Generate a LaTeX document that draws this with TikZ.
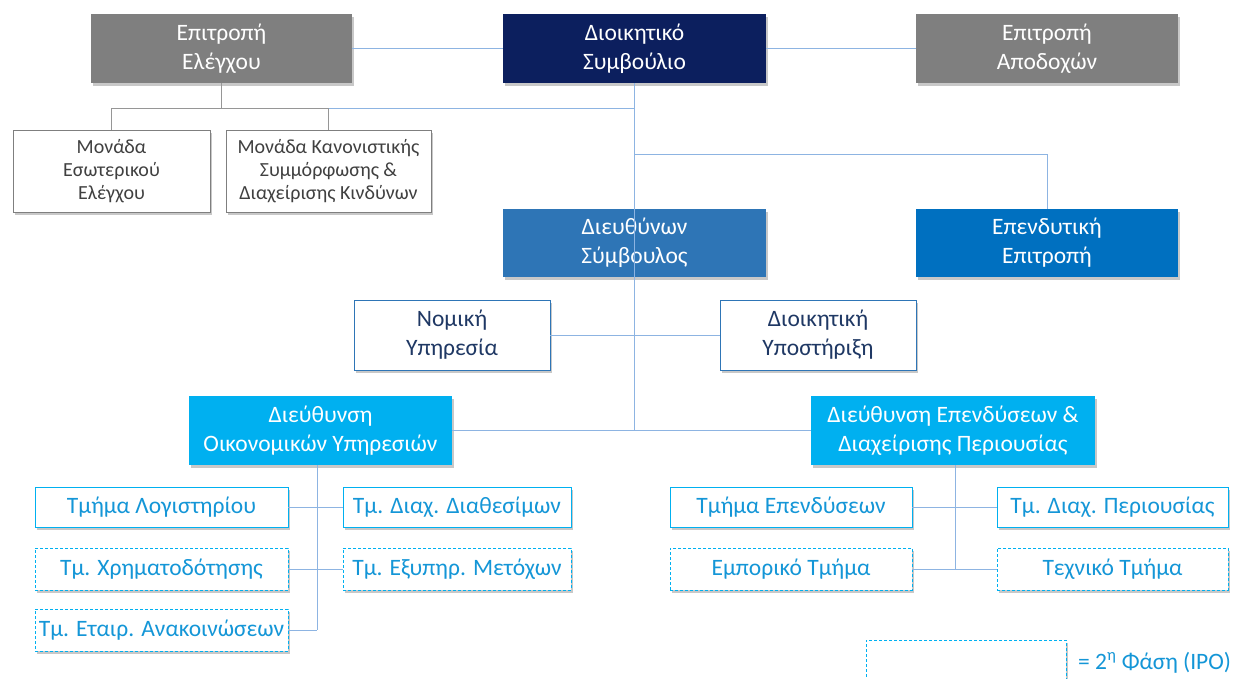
\documentclass[tikz,border=0pt]{standalone}
\usepackage{fontspec}
\setmainfont{Carlito}
\usetikzlibrary{shadows}
\definecolor{navy}{RGB}{12,31,94}
\definecolor{gbox}{RGB}{127,127,127}
\definecolor{steel}{RGB}{46,117,182}
\definecolor{invblue}{RGB}{0,112,192}
\definecolor{cyanbox}{RGB}{0,176,240}
\definecolor{cyantext}{RGB}{20,150,215}
\definecolor{lineblue}{RGB}{141,180,226}
\definecolor{linegray}{RGB}{150,150,150}
\definecolor{darktext}{RGB}{31,56,100}
\definecolor{graytext}{RGB}{64,64,64}
\tikzset{
  base/.style={inner sep=0pt, align=center, drop shadow={shadow xshift=1.5pt, shadow yshift=-3pt, opacity=0.3, fill=black!70}},
  bigfont/.style={font=\fontsize{23.5}{29}\selectfont},
  filledbox/.style={base, bigfont, text=white},
  unitbox/.style={base, fill=white, draw=gbox, line width=0.8pt, text=graytext, font=\fontsize{20}{23}\selectfont},
  staffbox/.style={base, bigfont, fill=white, draw=steel, line width=0.8pt, text=darktext},
  deptbox/.style={base, bigfont, fill=white, draw=cyanbox, line width=0.9pt, text=cyantext},
  phase2/.style={dash pattern=on 3pt off 2pt},
  conn/.style={draw=lineblue, line width=1pt},
  gconn/.style={draw=linegray, line width=1pt}
}
\begin{document}
\begin{tikzpicture}[x=1pt,y=-1pt]
\clip (0,0) rectangle (1236,678);
\fill[white] (0,0) rectangle (1236,678);
% top row
\node[filledbox, fill=gbox, minimum width=261pt, minimum height=69pt] (ee) at (221.5,48.5) {Επιτροπή\\Ελέγχου};
\node[filledbox, fill=navy, minimum width=263pt, minimum height=69pt] (db) at (634.5,48.5) {Διοικητικό\\Συμβούλιο};
\node[filledbox, fill=gbox, minimum width=262pt, minimum height=69pt] (ea) at (1047,48.5) {Επιτροπή\\Αποδοχών};
% units
\node[unitbox, minimum width=197pt, minimum height=82pt] (me) at (111.5,171) {Μονάδα\\Εσωτερικού\\Ελέγχου};
\node[unitbox, minimum width=205pt, minimum height=82pt] (mk) at (328.5,171) {Μονάδα Κανονιστικής\\Συμμόρφωσης \&\\Διαχείρισης Κινδύνων};
% CEO and investment committee
\node[filledbox, fill=steel, minimum width=263pt, minimum height=68pt] (ds) at (634.5,243) {Διευθύνων\\Σύμβουλος};
\node[filledbox, fill=invblue, minimum width=262pt, minimum height=68pt] (ep) at (1047,243) {Επενδυτική\\Επιτροπή};
% staff
\node[staffbox, minimum width=196pt, minimum height=70pt] (ny) at (452,335) {Νομική\\Υπηρεσία};
\node[staffbox, minimum width=196pt, minimum height=70pt] (dy) at (818,335) {Διοικητική\\Υποστήριξη};
% directorates
\node[filledbox, fill=cyanbox, minimum width=263pt, minimum height=69pt] (do) at (320.5,430.5) {Διεύθυνση\\Οικονομικών Υπηρεσιών};
\node[filledbox, fill=cyanbox, minimum width=284pt, minimum height=69pt] (dep) at (953,430.5) {Διεύθυνση Επενδύσεων \&\\Διαχείρισης Περιουσίας};
% departments left
\node[deptbox, minimum width=253pt, minimum height=40pt] (tl) at (161.5,507) {Τμήμα Λογιστηρίου};
\node[deptbox, minimum width=228pt, minimum height=40pt] (tdd) at (457,507) {Τμ. Διαχ. Διαθεσίμων};
\node[deptbox, phase2, minimum width=253pt, minimum height=42pt] (tx) at (161.5,569) {Τμ. Χρηματοδότησης};
\node[deptbox, phase2, minimum width=228pt, minimum height=42pt] (tem) at (457,569) {Τμ. Εξυπηρ. Μετόχων};
\node[deptbox, phase2, minimum width=253pt, minimum height=42pt] (tea) at (161.5,630) {Τμ. Εταιρ. Ανακοινώσεων};
% departments right
\node[deptbox, minimum width=242pt, minimum height=40pt] (tep) at (791,507) {Τμήμα Επενδύσεων};
\node[deptbox, minimum width=231pt, minimum height=40pt] (tdp) at (1112.5,507) {Τμ. Διαχ. Περιουσίας};
\node[deptbox, phase2, minimum width=242pt, minimum height=42pt] (emp) at (791,569) {Εμπορικό Τμήμα};
\node[deptbox, phase2, minimum width=231pt, minimum height=42pt] (tex) at (1112.5,569) {Τεχνικό Τμήμα};
% legend
\node[deptbox, phase2, minimum width=200pt, minimum height=46pt] (leg) at (966,663) {};
\node[bigfont, text=cyantext, anchor=west, inner sep=0pt] (legtext) at (1078,663) {= 2\textsuperscript{η} Φάση (IPO)};
% junction coordinates
\coordinate (g1) at (221.5,108);
\coordinate (j3) at (634.5,154);
\coordinate (lv) at (317,465);
\coordinate (rv) at (955,465);
% connectors
\draw[conn] (ee.east) -- (db.west);
\draw[conn] (db.east) -- (ea.west);
\draw[conn] (db.south) -- (db.south |- do.east);
\draw[conn] (do.east) -- (dep.west);
\draw[gconn] (ee.south) -- (g1);
\draw[gconn] (me.north) -- (me.north |- g1) -- (mk.north |- g1) -- (mk.north);
\draw[conn] (mk.north |- g1) -- (db.south |- g1);
\draw[conn] (j3) -| (ep.north);
\draw[conn] (ny.east) -- (dy.west);
\draw[conn] (lv) -- (lv |- tea.east);
\draw[conn] (tl.east) -- (tdd.west);
\draw[conn] (tx.east) -- (tem.west);
\draw[conn] (tea.east) -- (lv |- tea.east);
\draw[conn] (rv) -- (rv |- emp.east);
\draw[conn] (tep.east) -- (tdp.west);
\draw[conn] (emp.east) -- (tex.west);
\end{tikzpicture}
\end{document}
